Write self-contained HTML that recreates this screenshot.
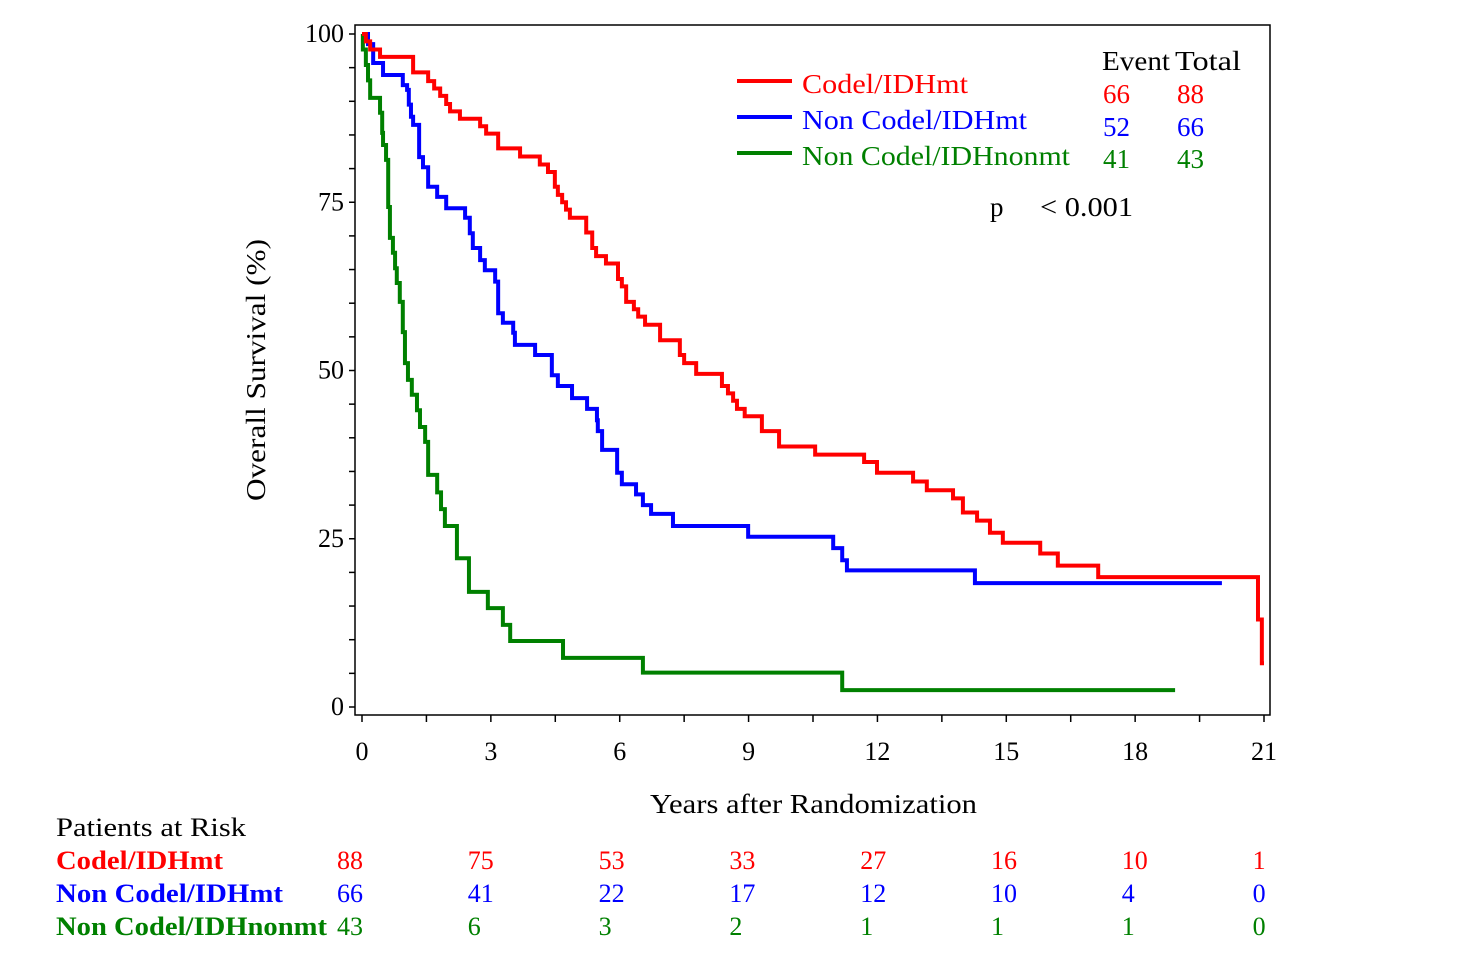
<!DOCTYPE html>
<html><head><meta charset="utf-8"><style>
html,body{margin:0;padding:0;background:#fff;}
svg{display:block;font-family:"Liberation Serif","DejaVu Serif",serif;}
</style></head><body>
<svg id="chart" width="1476" height="974" viewBox="0 0 1476 974">
<rect x="355" y="25" width="915" height="690" fill="none" stroke="#000" stroke-width="1.5"/>
<g id="axes"></g>
<g id="curves"></g>
<text x="265" y="370" font-size="27" text-anchor="middle" textLength="262" lengthAdjust="spacingAndGlyphs" transform="rotate(-90 265 370)">Overall Survival (%)</text>
<text x="650" y="813" font-size="27" textLength="327" lengthAdjust="spacingAndGlyphs">Years after Randomization</text>
<g font-size="27">
<line x1="737" y1="81" x2="792" y2="81" stroke="#ff0000" stroke-width="4"/>
<text x="802" y="93" fill="#ff0000" textLength="166" lengthAdjust="spacingAndGlyphs">Codel/IDHmt</text>
<line x1="737" y1="117" x2="792" y2="117" stroke="#0000ff" stroke-width="4"/>
<text x="802" y="129" fill="#0000ff" textLength="225" lengthAdjust="spacingAndGlyphs">Non Codel/IDHmt</text>
<line x1="737" y1="153" x2="792" y2="153" stroke="#008000" stroke-width="4"/>
<text x="802" y="165" fill="#008000" textLength="268" lengthAdjust="spacingAndGlyphs">Non Codel/IDHnonmt</text>
<text x="1102" y="70" textLength="68" lengthAdjust="spacingAndGlyphs">Event</text>
<text x="1175" y="70" textLength="66" lengthAdjust="spacingAndGlyphs">Total</text>
<text x="1103" y="103" fill="#ff0000">66</text>
<text x="1177" y="103" fill="#ff0000">88</text>
<text x="1103" y="136" fill="#0000ff">52</text>
<text x="1177" y="136" fill="#0000ff">66</text>
<text x="1103" y="168" fill="#008000">41</text>
<text x="1177" y="168" fill="#008000">43</text>
<text x="990" y="216">p</text>
<text x="1040" y="216" textLength="93" lengthAdjust="spacingAndGlyphs">&lt; 0.001</text>
</g>
<g font-size="26">
<text x="56" y="836" textLength="190" lengthAdjust="spacingAndGlyphs">Patients at Risk</text>
<text x="56" y="869" fill="#ff0000" font-weight="bold" textLength="167" lengthAdjust="spacingAndGlyphs">Codel/IDHmt</text>
<text x="56" y="902" fill="#0000ff" font-weight="bold" textLength="227" lengthAdjust="spacingAndGlyphs">Non Codel/IDHmt</text>
<text x="56" y="935" fill="#008000" font-weight="bold" textLength="271" lengthAdjust="spacingAndGlyphs">Non Codel/IDHnonmt</text>
</g>
<g id="risk" font-size="26"></g>
</svg>
<script>
const xTicksMajor = [0,3,6,9,12,15,18,21];
const yTicksMajor = [0,25,50,75,100];
const redT = [0,0.09,0.19,0.42,1.19,1.54,1.68,1.82,1.96,2.05,2.28,2.75,2.89,3.17,3.68,4.14,4.33,4.49,4.56,4.66,4.75,4.84,5.22,5.36,5.45,5.68,5.96,6.05,6.15,6.33,6.43,6.59,6.94,7.40,7.50,7.78,8.38,8.52,8.64,8.73,8.91,9.31,9.71,10.55,11.69,11.99,12.83,13.15,13.76,13.99,14.32,14.62,14.92,15.79,16.2,17.14,20.86,20.95];
const redS = [100,98.9,97.7,96.6,94.3,93,91.9,90.8,89.6,88.5,87.4,86.3,85.2,83,81.8,80.6,79.5,77.3,76.1,75,73.9,72.7,70.5,68.2,67,65.9,63.6,62.5,60.2,59.1,58,56.8,54.5,52.3,51.1,49.5,47.7,46.6,45.5,44.3,43.2,41,38.7,37.5,36.4,34.8,33.5,32.2,31,28.9,27.7,25.9,24.4,22.8,21,19.3,13,6.5];
const redEnd = 21.0;
const blueT = [0,0.14,0.26,0.49,0.95,1.05,1.09,1.14,1.19,1.33,1.42,1.54,1.75,1.96,2.40,2.51,2.58,2.75,2.86,3.10,3.17,3.28,3.52,3.56,4.03,4.42,4.56,4.89,5.24,5.47,5.49,5.59,5.94,6.05,6.38,6.54,6.73,7.24,8.99,10.97,11.18,11.29,14.27];
const blueS = [100,98.5,95.7,93.9,92.4,91.7,89.5,87.7,86.5,81.7,80.2,77.3,75.8,74.1,72.7,70.4,68.2,66.4,64.9,63.2,58.5,57.1,55.6,53.8,52.3,49.3,47.7,45.9,44.3,42.6,41,38.2,34.8,33.1,31.6,30,28.7,26.9,25.3,23.6,21.8,20.3,18.4];
const blueEnd = 20.02;
const greenT = [0,0.02,0.09,0.14,0.19,0.42,0.47,0.49,0.56,0.61,0.65,0.72,0.77,0.81,0.88,0.95,1.00,1.07,1.16,1.28,1.35,1.47,1.54,1.75,1.84,1.93,2.21,2.49,2.93,3.28,3.45,4.68,6.54,11.18];
const greenS = [100,97.7,95.4,93.1,90.5,88.3,85.3,83.5,81.3,74.3,69.7,67.5,65.2,63,60.2,55.7,51.1,48.6,46.4,44.1,41.6,39.4,34.5,31.9,29.4,26.9,22.1,17.1,14.7,12.2,9.8,7.3,5.1,2.5];
const greenEnd = 18.93;
const riskCodel = [88,75,53,33,27,16,10,1];
const riskNonCodel = [66,41,22,17,12,10,4,0];
const riskNonMt = [43,6,3,2,1,1,1,0];

const NS = "http://www.w3.org/2000/svg";
const xs = t => 362 + t*(1264-362)/21;
const ys = s => 707 - s*(707-34)/100;
const axes = document.getElementById('axes');
for (let t=0; t<=21.001; t+=1.5) {
  const l = document.createElementNS(NS,'line');
  l.setAttribute('x1',xs(t)); l.setAttribute('x2',xs(t));
  l.setAttribute('y1',715); l.setAttribute('y2',722);
  l.setAttribute('stroke','#000'); l.setAttribute('stroke-width','1.5');
  
  
  axes.appendChild(l);
}
xTicksMajor.forEach(t => {
  const tx = document.createElementNS(NS,'text');
  tx.setAttribute('x',xs(t)); tx.setAttribute('y',760);
  tx.setAttribute('font-size','26'); tx.setAttribute('text-anchor','middle');
  tx.textContent = t;
  
  
  axes.appendChild(tx);
});
for (let s=0; s<=100; s+=5) {
  const l = document.createElementNS(NS,'line');
  l.setAttribute('x1',349); l.setAttribute('x2',355);
  l.setAttribute('y1',ys(s)); l.setAttribute('y2',ys(s));
  l.setAttribute('stroke','#000'); l.setAttribute('stroke-width','1.5');
  
  
  axes.appendChild(l);
}
yTicksMajor.forEach(s => {
  const tx = document.createElementNS(NS,'text');
  tx.setAttribute('x',344); tx.setAttribute('y',ys(s)+8);
  tx.setAttribute('font-size','26'); tx.setAttribute('text-anchor','end');
  tx.textContent = s;
  
  
  axes.appendChild(tx);
});
const curves = document.getElementById('curves');
function drawCurve(T,S,end,color,name){
  let d = 'M'+xs(T[0])+','+ys(S[0]);
  for (let i=1;i<T.length;i++){
    d += ' H'+xs(T[i])+' V'+ys(S[i]);
  }
  d += ' H'+xs(end);
  const p = document.createElementNS(NS,'path');
  p.setAttribute('d',d); p.setAttribute('fill','none');
  p.setAttribute('stroke',color); p.setAttribute('stroke-width','4');
  
  
  curves.appendChild(p);
}
drawCurve(greenT,greenS,greenEnd,'#008000','curve-noncodel-idhnonmt');
drawCurve(blueT,blueS,blueEnd,'#0000ff','curve-noncodel-idhmt');
drawCurve(redT,redS,redEnd,'#ff0000','curve-codel-idhmt');
const risk = document.getElementById('risk');
[[riskCodel,'#ff0000',869],[riskNonCodel,'#0000ff',902],[riskNonMt,'#008000',935]].forEach(([arr,c,y]) => {
  arr.forEach((v,i) => {
    const tx = document.createElementNS(NS,'text');
    tx.setAttribute('x',337 + i*130.8); tx.setAttribute('y',y);
    tx.setAttribute('fill',c);
    tx.textContent = v;
    
    
    risk.appendChild(tx);
  });
});
</script>
</body></html>
